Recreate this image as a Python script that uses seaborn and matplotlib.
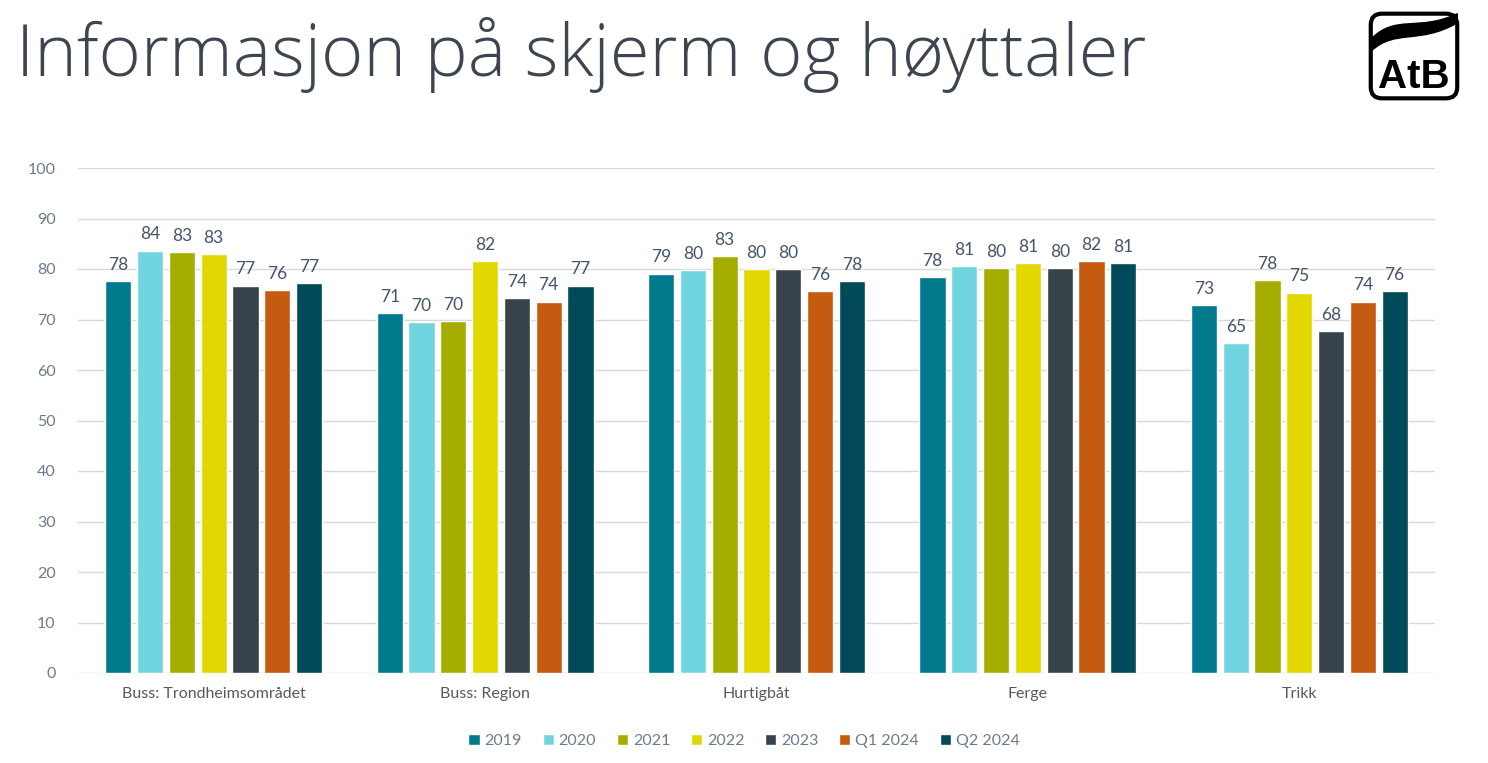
import matplotlib
matplotlib.use("Agg")
import matplotlib.pyplot as plt
import seaborn as sns
import pandas as pd
from matplotlib.patches import FancyBboxPatch, PathPatch
from matplotlib.path import Path

categories = ["Buss: Trondheimsområdet", "Buss: Region", "Hurtigbåt", "Ferge", "Trikk"]
series = ["2019", "2020", "2021", "2022", "2023", "Q1 2024", "Q2 2024"]
v2019 = [77.6, 71.3, 79.1, 78.4, 72.9]
v2020 = [83.6, 69.5, 79.8, 80.6, 65.3]
v2021 = [83.3, 69.7, 82.6, 80.1, 77.8]
v2022 = [83.0, 81.5, 80.0, 81.1, 75.3]
v2023 = [76.7, 74.2, 80.0, 80.2, 67.7]
vq1_2024 = [75.8, 73.5, 75.6, 81.6, 73.5]
vq2_2024 = [77.2, 76.7, 77.6, 81.2, 75.6]
colors = ["#007A8C", "#71D5E0", "#A4AD00", "#E2D800", "#37424A", "#C55A11", "#004A59"]
yticks = [0, 10, 20, 30, 40, 50, 60, 70, 80, 90, 100]

all_vals = [v2019, v2020, v2021, v2022, v2023, vq1_2024, vq2_2024]
rows = []
for s, vals in zip(series, all_vals):
    for c, v in zip(categories, vals):
        rows.append({"cat": c, "series": s, "value": v})
df = pd.DataFrame(rows)

sns.set_theme(style="white")
plt.rcParams["font.family"] = ["Lato", "DejaVu Sans"]

fig = plt.figure(figsize=(14.88, 7.63), dpi=100)
ax = fig.add_axes([78 / 1488, 1 - 673 / 763, (1435 - 78) / 1488, (673 - 168) / 763])

sns.barplot(data=df, x="cat", y="value", hue="series", order=categories,
            hue_order=series, palette=colors, width=0.82, gap=0.18,
            saturation=1, ax=ax, legend=True, errorbar=None)

for cont in ax.containers:
    ax.bar_label(cont, labels=[f"{v:.0f}" for v in cont.datavalues],
                 padding=6, fontsize=12.5, color="#44546A")

ax.set_ylim(0, 100)
ax.set_xlim(-0.5, 4.5)
ax.set_yticks(yticks)
ax.yaxis.grid(True, color="#d9d9d9", linewidth=1)
ax.set_axisbelow(True)
for sp in ax.spines.values():
    sp.set_visible(False)
ax.set_xlabel("")
ax.set_ylabel("")
ax.tick_params(axis="y", length=0, pad=16, labelsize=11.5, labelcolor="#6B7B8C")
ax.tick_params(axis="x", length=0, pad=10, labelsize=11.5, labelcolor="#595959")

handles, labels = ax.get_legend_handles_labels()
ax.get_legend().remove()
fig.legend(handles, labels, loc="center", bbox_to_anchor=(0.5, 1 - 741 / 763),
           ncol=7, frameon=False, fontsize=11.5, handlelength=0.7, handleheight=0.7,
           columnspacing=1.3, handletextpad=0.3, labelcolor="#6B7B8C")

fig.text(16 / 1488, 1 - 55 / 763, "Informasjon på skjerm og høyttaler",
         fontsize=52, color="#3D4650", fontweight="light", va="center", ha="left",
         family=["Open Sans", "DejaVu Sans"])

# AtB logo
lax = fig.add_axes([1367 / 1488, 1 - 102 / 763, 94 / 1488, 92 / 763])
lax.set_xlim(0, 1)
lax.set_ylim(0, 1)
lax.axis("off")
box = FancyBboxPatch((0.04, 0.04), 0.92, 0.92, boxstyle="round,pad=0,rounding_size=0.12",
                     linewidth=3, edgecolor="black", facecolor="white")
lax.add_patch(box)
verts = [(0.04, 0.55), (0.30, 0.80), (0.55, 0.62), (0.96, 0.86),
         (0.96, 0.96), (0.55, 0.76), (0.30, 0.96), (0.04, 0.68), (0.04, 0.55)]
codes = [Path.MOVETO, Path.CURVE4, Path.CURVE4, Path.CURVE4,
         Path.LINETO, Path.CURVE4, Path.CURVE4, Path.CURVE4, Path.CLOSEPOLY]
lax.add_patch(PathPatch(Path(verts, codes), facecolor="black", edgecolor="black"))
lax.text(0.5, 0.27, "AtB", ha="center", va="center", fontsize=29, fontweight="bold",
         color="black", family=["Liberation Sans Narrow", "Liberation Sans", "DejaVu Sans"])

fig.savefig("out.png", dpi=100, facecolor="white")
